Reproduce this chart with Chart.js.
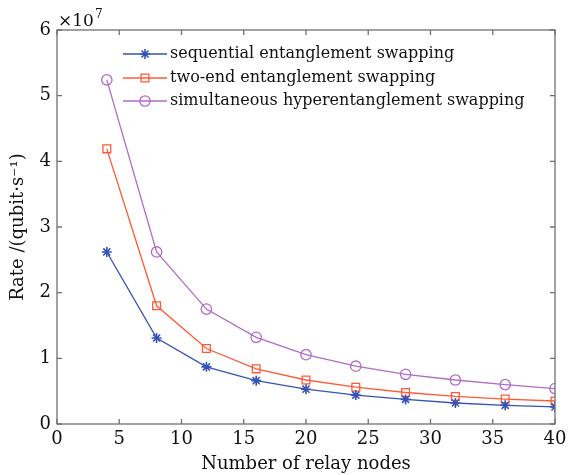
<!DOCTYPE html>
<html><head><meta charset="utf-8">
<script src="https://cdn.jsdelivr.net/npm/chart.js@4/dist/chart.umd.min.js"></script>
<style>html,body{margin:0;padding:0;background:#fff}#wrap{width:568px;height:475px;position:relative}</style>
</head><body><div id="wrap"><canvas id="c" width="568" height="475"></canvas></div>
<script>
const relayNodes = [4, 8, 12, 16, 20, 24, 28, 32, 36, 40];
const sequential = [2.62, 1.31, 0.87, 0.66, 0.53, 0.44, 0.375, 0.32, 0.285, 0.26];
const twoEnd = [4.19, 1.80, 1.15, 0.84, 0.67, 0.56, 0.48, 0.42, 0.38, 0.35];
const simultaneous = [5.24, 2.62, 1.75, 1.32, 1.055, 0.88, 0.757, 0.67, 0.60, 0.54];
const seriesNames = ['sequential entanglement swapping', 'two-end entanglement swapping', 'simultaneous hyperentanglement swapping'];
const xTickValues = [0, 5, 10, 15, 20, 25, 30, 35, 40];
const yTickValues = [0, 1, 2, 3, 4, 5, 6];
const yExponent = '7';

const FONT = 'DejaVu Serif';
const colors = ['#3553b5', '#ff5a35', '#b06cc8'];
const styles = ['star', 'rect', 'circle'];
const radii = [5, 5.5, 5.2];
const seriesData = [sequential, twoEnd, simultaneous];

const datasets = seriesData.map((arr, i) => ({
  label: seriesNames[i],
  data: relayNodes.map((x, j) => ({x, y: arr[j]})),
  borderColor: colors[i],
  backgroundColor: 'rgba(0,0,0,0)',
  pointBorderColor: colors[i],
  pointBackgroundColor: 'rgba(0,0,0,0)',
  pointStyle: styles[i],
  pointRadius: radii[i],
  pointBorderWidth: i === 0 ? 1.6 : 1.3,
  borderWidth: 1.3,
  tension: 0
}));

const boxPlugin = {
  id: 'boxPlugin',
  afterDatasetsDraw(chart) {
    const ctx = chart.ctx, a = chart.chartArea;
    const xs = chart.scales.x, ys = chart.scales.y;
    ctx.save();
    ctx.strokeStyle = '#707070';
    ctx.lineWidth = 1.3;
    ctx.strokeRect(a.left, a.top, a.right - a.left, a.bottom - a.top);
    const tl = 5;
    ctx.beginPath();
    xTickValues.forEach(v => {
      const px = xs.getPixelForValue(v);
      ctx.moveTo(px, a.bottom); ctx.lineTo(px, a.bottom - tl);
      ctx.moveTo(px, a.top); ctx.lineTo(px, a.top + tl);
    });
    yTickValues.forEach(v => {
      const py = ys.getPixelForValue(v);
      ctx.moveTo(a.left, py); ctx.lineTo(a.left + tl, py);
      ctx.moveTo(a.right, py); ctx.lineTo(a.right - tl, py);
    });
    ctx.stroke();
    // exponent label
    ctx.fillStyle = '#111';
    ctx.textBaseline = 'alphabetic';
    ctx.textAlign = 'left';
    ctx.font = '17px "' + FONT + '"';
    ctx.fillText('\u00d710', a.left + 1, a.top - 4);
    const w = ctx.measureText('\u00d710').width;
    ctx.font = '12px "' + FONT + '"';
    ctx.fillText(yExponent, a.left + 1 + w + 1, a.top - 12);
    // legend
    const rows = [54, 78, 101];
    chart.data.datasets.forEach((ds, i) => {
      const y = rows[i];
      ctx.strokeStyle = ds.borderColor;
      ctx.fillStyle = 'rgba(0,0,0,0)';
      ctx.lineWidth = 1.3;
      ctx.beginPath(); ctx.moveTo(123, y); ctx.lineTo(167, y); ctx.stroke();
      ctx.lineWidth = ds.pointBorderWidth;
      Chart.helpers.drawPoint(ctx, {pointStyle: ds.pointStyle, radius: ds.pointRadius, borderWidth: ds.pointBorderWidth, rotation: 0}, 145, y);
      ctx.fillStyle = '#111';
      ctx.font = '16px "' + FONT + '"';
      ctx.textBaseline = 'middle';
      ctx.fillText(ds.label, 170, y);
    });
    ctx.restore();
  }
};

new Chart(document.getElementById('c'), {
  type: 'line',
  data: { datasets },
  options: {
    responsive: false,
    devicePixelRatio: 1,
    animation: false,
    layout: { padding: { left: 0, right: 13, top: 30, bottom: 0 } },
    plugins: { legend: { display: false }, tooltip: { enabled: false } },
    scales: {
      x: {
        type: 'linear', min: 0, max: 40,
        afterBuildTicks(s) { s.ticks = xTickValues.map(v => ({value: v})); },
        afterFit(s) { s.height = 51; s.paddingRight = 0; },
        grid: { display: false, drawTicks: false },
        border: { display: false },
        ticks: { color: '#111', font: { family: FONT, size: 18 }, padding: 5, maxRotation: 0 },
        title: { display: true, text: 'Number of relay nodes', color: '#111', font: { family: FONT, size: 18 }, padding: { top: 0, bottom: 0 } }
      },
      y: {
        type: 'linear', min: 0, max: 6,
        afterBuildTicks(s) { s.ticks = yTickValues.map(v => ({value: v})); },
        afterFit(s) { s.width = 57; },
        grid: { display: false, drawTicks: false },
        border: { display: false },
        ticks: { color: '#111', font: { family: FONT, size: 18 }, padding: 6 },
        title: { display: true, text: 'Rate /(qubit\u00b7s\u207b\u00b9)', color: '#111', font: { family: FONT, size: 18 }, padding: { top: 8, bottom: 0 } }
      }
    }
  },
  plugins: [boxPlugin]
});
</script></body></html>
